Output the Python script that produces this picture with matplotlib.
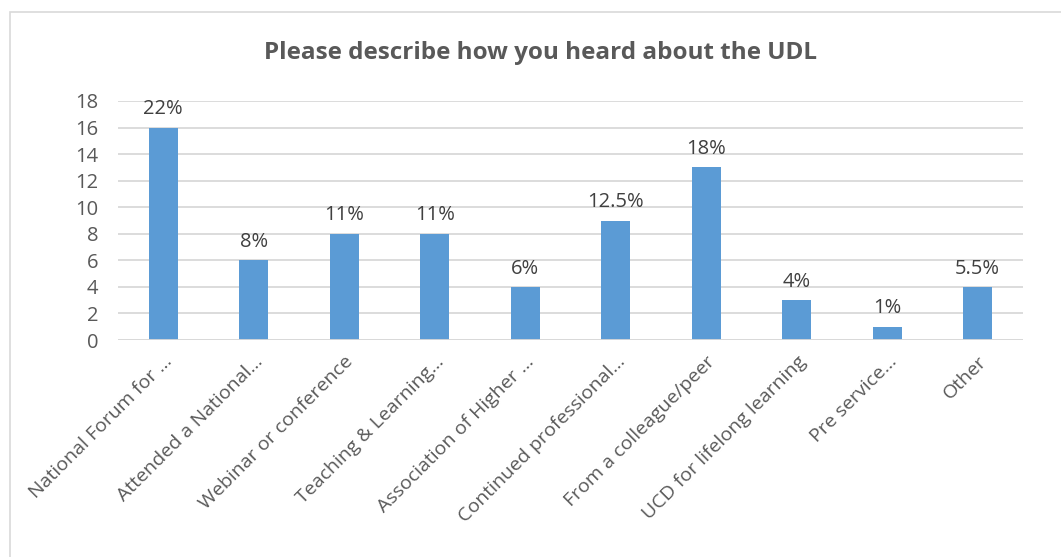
import matplotlib.pyplot as plt
import matplotlib.patches as mpatches
import numpy as np

categories = ["National Forum for ...", "Attended a National...", "Webinar or conference",
              "Teaching & Learning...", "Association of Higher ...", "Continued professional...",
              "From a colleague/peer", "UCD for lifelong learning", "Pre service...", "Other"]
counts = [16, 6, 8, 8, 4, 9, 13, 3, 1, 4]
pct_labels = ["22%", "8%", "11%", "11%", "6%", "12.5%", "18%", "4%", "1%", "5.5%"]

plt.rcParams['font.family'] = ['Open Sans', 'DejaVu Sans']

fig = plt.figure(figsize=(10.61, 5.57), dpi=100)
# light chart-area border
fig.patches.append(mpatches.Rectangle((10 / 1061, -0.05), 1.1, 1 - 12 / 557 + 0.05,
                                      transform=fig.transFigure, fill=False,
                                      edgecolor='#D9D9D9', lw=1.2))

ax = fig.add_axes([118 / 1061, 217 / 557, 905 / 1061, 239 / 557])
x = np.arange(len(categories))
ax.bar(x, counts, width=0.32, color='#5B9BD5', zorder=3)

for xi, c, lab in zip(x, counts, pct_labels):
    ax.annotate(lab, (xi, c), xytext=(0, 6), textcoords='offset points',
                ha='center', va='bottom', fontsize=14.5, color='#404040')

ax.set_xlim(-0.5, len(categories) - 0.5)
ax.set_ylim(0, 18)
ax.set_yticks(range(0, 19, 2))
ax.yaxis.grid(True, color='#D9D9D9', lw=1.3, zorder=0)
for s in ax.spines.values():
    s.set_visible(False)
ax.axhline(0, color='#D9D9D9', lw=1.3, zorder=4)
ax.tick_params(axis='both', length=0, labelcolor='#595959')
ax.tick_params(axis='y', pad=14, labelsize=14.5)
ax.tick_params(axis='x', pad=9, labelsize=14)
ax.set_xticks(x)
ax.set_xticklabels(categories, rotation=45, ha='right', rotation_mode='anchor')

fig.text(540 / 1061, 1 - 53 / 557, "Please describe how you heard about the UDL",
         ha='center', va='center', fontsize=17.5, fontweight='bold', color='#595959')

fig.savefig('out.png', dpi=100)
